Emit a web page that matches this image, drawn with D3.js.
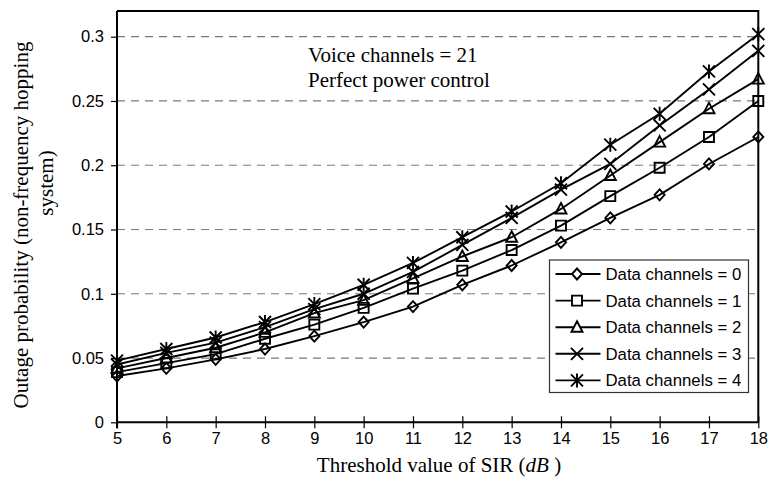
<!DOCTYPE html>
<html>
<head>
<meta charset="utf-8">
<script src="https://cdn.jsdelivr.net/npm/d3@7"></script>
<style>
  body { margin: 0; background: #fff; }
  svg { display: block; }
</style>
</head>
<body>
<svg id="chart" width="770" height="483"></svg>
<script>
// Threshold SIR values (dB)
const sir = [5, 6, 7, 8, 9, 10, 11, 12, 13, 14, 15, 16, 17, 18];

// Outage probability for each number of data channels
const data0 = [0.036, 0.042, 0.049, 0.057, 0.067, 0.078, 0.090, 0.107, 0.122, 0.140, 0.159, 0.177, 0.201, 0.222];
const data1 = [0.039, 0.046, 0.053, 0.065, 0.076, 0.089, 0.104, 0.118, 0.134, 0.153, 0.176, 0.198, 0.222, 0.250];
const data2 = [0.042, 0.050, 0.058, 0.070, 0.085, 0.095, 0.112, 0.129, 0.144, 0.166, 0.192, 0.218, 0.244, 0.267];
const data3 = [0.045, 0.054, 0.062, 0.074, 0.088, 0.100, 0.117, 0.138, 0.159, 0.181, 0.201, 0.231, 0.259, 0.289];
const data4 = [0.048, 0.057, 0.066, 0.078, 0.092, 0.107, 0.124, 0.144, 0.164, 0.186, 0.216, 0.240, 0.273, 0.302];

const seriesNames = ["Data channels = 0", "Data channels = 1", "Data channels = 2", "Data channels = 3", "Data channels = 4"];
const markerTypes = ["diamond", "square", "triangle", "cross", "asterisk"];
const yTicks = [0, 0.05, 0.1, 0.15, 0.2, 0.25, 0.3];
const yTickLabels = ["0", "0.05", "0.1", "0.15", "0.2", "0.25", "0.3"];
const xTicks = [5, 6, 7, 8, 9, 10, 11, 12, 13, 14, 15, 16, 17, 18];
const annotation = ["Voice channels = 21", "Perfect power control"];

const allSeries = [data0, data1, data2, data3, data4];

const svg = d3.select("#chart");
const W = 770, H = 483;
const margin = { left: 117, right: 11.7, top: 11, bottom: 60.7 };
const iw = W - margin.left - margin.right;
const ih = H - margin.top - margin.bottom;

const x = d3.scaleLinear().domain([5, 18]).range([0, iw]);
const y = d3.scaleLinear().domain([0, 0.32]).range([ih, 0]);

const g = svg.append("g").attr("transform", `translate(${margin.left},${margin.top})`);

const sans = "'Liberation Sans', Arial, sans-serif";
const serif = "'Liberation Serif', 'Times New Roman', serif";
const stroke = 1.9;

// dashed horizontal gridlines
g.append("g").selectAll("line")
  .data(yTicks.filter(d => d > 0))
  .join("line")
  .attr("x1", 0).attr("x2", iw)
  .attr("y1", d => y(d)).attr("y2", d => y(d))
  .attr("stroke", "#7a7a7a")
  .attr("stroke-width", 1.2)
  .attr("stroke-dasharray", "8,6");

// frame: top and right edges
g.append("path")
  .attr("d", `M0,0H${iw}V${ih}`)
  .attr("fill", "none")
  .attr("stroke", "#000")
  .attr("stroke-width", 2);

// y axis
const yAxis = d3.axisLeft(y).tickValues(yTicks)
  .tickFormat((d, i) => yTickLabels[i]).tickSize(6).tickPadding(7);
const gy = g.append("g").call(yAxis);
gy.select(".domain").attr("stroke-width", 2).attr("d", `M0,${ih + 6}V0`);
gy.selectAll(".tick line").attr("stroke-width", 1.2);
gy.selectAll(".tick text").attr("font-family", sans).attr("font-size", 16.5).attr("fill", "#000");

// x axis, ticks crossing the axis line
const xAxis = d3.axisBottom(x).tickValues(xTicks).tickFormat(d3.format("d"))
  .tickSize(6).tickPadding(4);
const gx = g.append("g").attr("transform", `translate(0,${ih})`).call(xAxis);
gx.select(".domain").attr("stroke-width", 2).attr("d", `M0,0H${iw}`);
gx.selectAll(".tick line").attr("y1", -6).attr("y2", 6).attr("stroke-width", 1.2);
gx.selectAll(".tick text").attr("font-family", sans).attr("font-size", 16.5).attr("fill", "#000");

// marker drawing
function markerPath(type) {
  const s = 5.5;
  switch (type) {
    case "diamond": return `M0,${-s}L${s - 0.5},0L0,${s}L${-(s - 0.5)},0Z`;
    case "square": return `M-5,-5H5V5H-5Z`;
    case "triangle": return `M0,-6L5.5,4.5H-5.5Z`;
    case "cross": return `M-6,-6L6,6M-6,6L6,-6`;
    case "asterisk": return `M-6,-6L6,6M-6,6L6,-6M0,-7V7`;
  }
}

const line = d3.line().x((d, i) => x(sir[i])).y(d => y(d));

allSeries.forEach((vals, k) => {
  g.append("path")
    .datum(vals)
    .attr("d", line)
    .attr("fill", "none")
    .attr("stroke", "#000")
    .attr("stroke-width", stroke);
  g.append("g").selectAll("path")
    .data(vals)
    .join("path")
    .attr("transform", (d, i) => `translate(${x(sir[i])},${y(d)})`)
    .attr("d", markerPath(markerTypes[k]))
    .attr("fill", "none")
    .attr("stroke", "#000")
    .attr("stroke-width", stroke);
});

// annotation text
g.append("g").selectAll("text")
  .data(annotation)
  .join("text")
  .attr("x", 308 - margin.left)
  .attr("y", (d, i) => 61.7 - margin.top + i * 25.6)
  .attr("font-family", serif)
  .attr("font-size", 21)
  .attr("fill", "#000")
  .text(d => d);

// legend
const lg = svg.append("g").attr("transform", "translate(549.5,260)");
lg.append("rect")
  .attr("width", 199).attr("height", 132.5)
  .attr("fill", "#fff")
  .attr("stroke", "#333")
  .attr("stroke-width", 1.2);
seriesNames.forEach((name, k) => {
  const cy = 14 + k * 26.6;
  const row = lg.append("g").attr("transform", `translate(0,${cy})`);
  row.append("line").attr("x1", 6).attr("x2", 51).attr("y1", 0).attr("y2", 0)
    .attr("stroke", "#000").attr("stroke-width", stroke);
  row.append("path").attr("transform", "translate(27.5,0)")
    .attr("d", markerPath(markerTypes[k]))
    .attr("fill", "#fff").attr("stroke", "#000").attr("stroke-width", stroke);
  row.append("text").attr("x", 56).attr("y", 0).attr("dy", "0.36em")
    .attr("font-family", sans).attr("font-size", 16.8).attr("fill", "#000")
    .text(name);
});

// axis titles
const xt = svg.append("text")
  .attr("x", 439).attr("y", 472)
  .attr("text-anchor", "middle")
  .attr("font-family", serif).attr("font-size", 21).attr("fill", "#000");
xt.append("tspan").text("Threshold value of SIR (");
xt.append("tspan").attr("font-style", "italic").text("dB");
xt.append("tspan").text(" )");

svg.append("text")
  .attr("transform", "translate(28,225) rotate(-90)")
  .attr("text-anchor", "middle")
  .attr("font-family", serif).attr("font-size", 21).attr("fill", "#000")
  .text("Outage probability (non-frequency hopping");
svg.append("text")
  .attr("transform", "translate(53,183) rotate(-90)")
  .attr("text-anchor", "middle")
  .attr("font-family", serif).attr("font-size", 21).attr("fill", "#000")
  .text("system)");
</script>
</body>
</html>
